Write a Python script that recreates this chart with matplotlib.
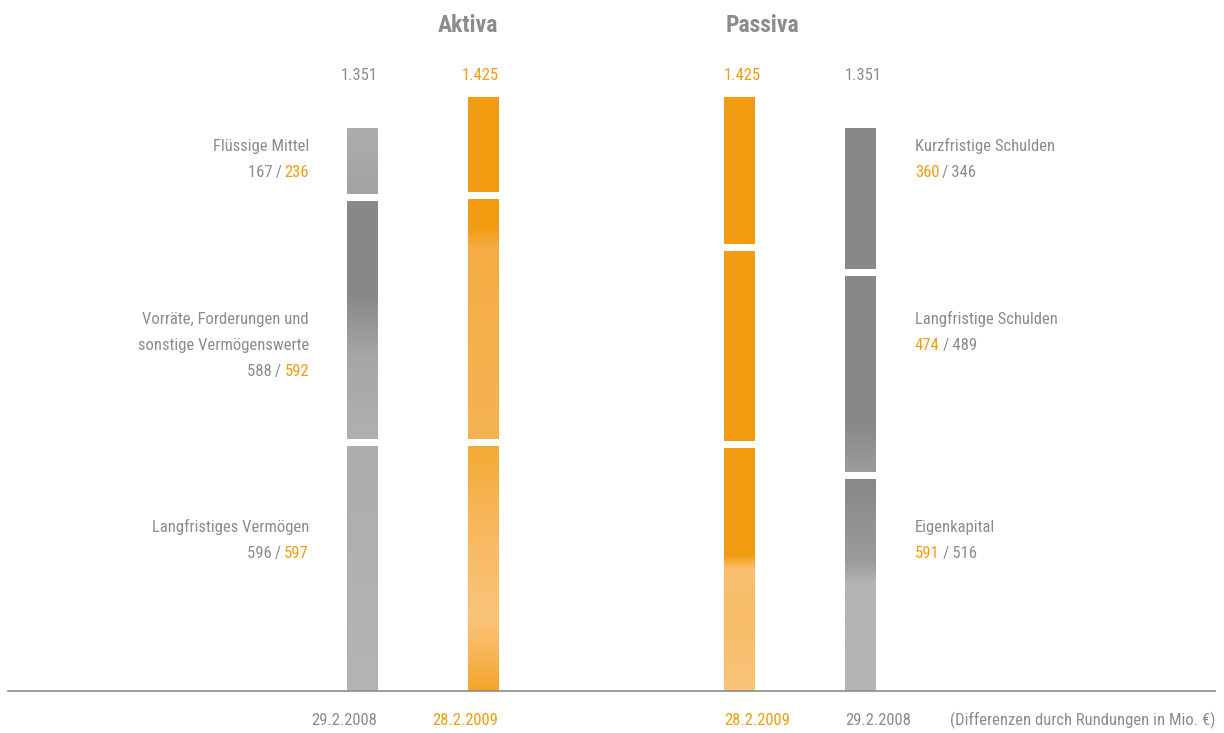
import numpy as np
import matplotlib
matplotlib.use("Agg")
from matplotlib import pyplot
from matplotlib import font_manager
from matplotlib.colors import LinearSegmentedColormap

# fonts: narrow face if present
entries = font_manager.fontManager.ttflist
names = set(f.name for f in entries)
stretch = 'normal'
family = 'DejaVu Sans'
for cand in ['Roboto Condensed', 'Liberation Sans Narrow', 'Open Sans Condensed', 'Noto Sans Condensed']:
    if cand in names:
        family = cand
        break
else:
    for f in entries:
        if f.name in ('DejaVu Sans', 'Noto Sans', 'Open Sans', 'Roboto') and f.stretch in ('condensed', 'semi-condensed', 'extra-condensed'):
            family = f.name
            stretch = f.stretch
            break
pyplot.rcParams['font.family'] = [family, 'DejaVu Sans']
pyplot.rcParams['font.stretch'] = stretch
narrow = family != 'DejaVu Sans' or stretch != 'normal'
FS = 12 if narrow else 10.5
FT = 17 if narrow else 15

# data (Mio. EUR)
dates = ['29.2.2008', '28.2.2009', '28.2.2009', '29.2.2008']
aktiva_labels = ['Langfristiges Vermögen', 'Vorräte, Forderungen und\nsonstige Vermögenswerte', 'Flüssige Mittel']
aktiva_2008 = [596, 588, 167]
aktiva_2009 = [597, 592, 236]
passiva_labels = ['Eigenkapital', 'Langfristige Schulden', 'Kurzfristige Schulden']
passiva_2009 = [591, 474, 360]
passiva_2008 = [516, 489, 346]
totals = ['1.351', '1.425', '1.425', '1.351']

GREY_TXT = '#8c8c8c'
ORANGE_TXT = '#f39c12'
DARK = '#888888'
LIGHT = '#b4b4b4'
OR = '#f39c12'
LOR = '#fac47a'

# colour stops per segment (bottom -> top)
styles = [
    [[(0, LIGHT), (1, '#adadad')],
     [(0, '#b0b0b0'), (0.35, '#a6a6a6'), (0.6, DARK), (1, DARK)],
     [(0, '#a2a2a2'), (1, '#adadad')]],
    [[(0, '#f5a628'), (0.12, '#f7b24e'), (0.3, LOR), (0.6, '#f8ba62'), (1, '#f5aa36')],
     [(0, '#f6b352'), (0.8, '#f5ac44'), (0.88, OR), (1, OR)],
     [(0, OR), (1, OR)]],
    [[(0, LOR), (0.3, '#f8bc66'), (0.5, '#f9c070'), (0.56, OR), (1, OR)],
     [(0, OR), (1, OR)],
     [(0, OR), (1, OR)]],
    [[(0, LIGHT), (0.5, LIGHT), (0.62, '#9a9a9a'), (1, DARK)],
     [(0, '#9c9c9c'), (0.25, DARK), (1, DARK)],
     [(0, DARK), (1, DARK)]],
]

series = [aktiva_2008, aktiva_2009, passiva_2009, passiva_2008]
xpos = [0, 1, 3.12, 4.12]
width = 0.256
gap = 17

fig = pyplot.figure(figsize=(12.24, 7.33), dpi=100)
ax = fig.add_axes([0, 0, 1, 1])
ax.set_xlim(-2.992, 7.124)
ax.set_ylim(-100.8, 1657.9)
ax.axis('off')

ramp = np.linspace(0, 1, 256).reshape(-1, 1)
for k, vals in enumerate(series):
    cum = np.concatenate([[0], np.cumsum(vals)])
    for i, v in enumerate(vals):
        lo = cum[i] + (gap / 2 if i > 0 else 0)
        hi = cum[i + 1] - (gap / 2 if i < len(vals) - 1 else 0)
        bar = ax.bar(xpos[k], hi - lo, width, bottom=lo, color=styles[k][i][0][1], linewidth=0)[0]
        cmap = LinearSegmentedColormap.from_list('s%d%d' % (k, i), styles[k][i])
        im = ax.imshow(ramp, cmap=cmap, origin='lower', aspect='auto',
                       extent=(xpos[k] - width / 2, xpos[k] + width / 2, lo, hi), zorder=2)
        im.set_clip_path(bar)
    tcol = GREY_TXT if dates[k].endswith('2008') else ORANGE_TXT
    # aktiva texts flush right with the bar, passiva texts flush left
    if k < 2:
        tx, ha = xpos[k] + width / 2, 'right'
    else:
        tx, ha = xpos[k] - width / 2, 'left'
    ax.text(tx, 1466, totals[k], color=tcol, fontsize=FS, ha=ha, va='baseline')
    ax.text(tx, -82, dates[k], color=tcol, fontsize=FS, ha=ha, va='baseline')

# baseline
ax.plot([-2.926, 7.05], [0, 0], color='#8c8c8c', lw=1.2, zorder=3)

# titles
ax.text(0.876, 1581, 'Aktiva', color=GREY_TXT, fontsize=FT, fontweight='bold', ha='center', va='baseline')
ax.text(3.306, 1581, 'Passiva', color=GREY_TXT, fontsize=FT, fontweight='bold', ha='center', va='baseline')

# segment labels
SEP = '\u2009/\u2009'
def pair(ax, x, y, first, second, c1, c2, ha):
    t1 = '%d' % first
    t2 = '%d' % second
    if ha == 'right':
        t = ax.text(x, y, t2, color=c2, fontsize=FS, ha='right', va='baseline')
        ax.annotate(t1 + SEP, xy=(0, 0), xycoords=t, ha='right', va='bottom', color=c1, fontsize=FS)
    else:
        t = ax.text(x, y, t1, color=c1, fontsize=FS, ha='left', va='baseline')
        ax.annotate(SEP + t2, xy=(1, 0), xycoords=t, ha='left', va='bottom', color=c2, fontsize=FS)

left_x = -0.438
line = 62
name_y = [381, 818, 1296]
for i, lab in enumerate(aktiva_labels):
    rows = lab.split('\n')
    for j, row in enumerate(rows):
        ax.text(left_x, name_y[i] + line * (len(rows) - 1 - j), row, color=GREY_TXT,
                fontsize=FS, ha='right', va='baseline')
    pair(ax, left_x, name_y[i] - line, aktiva_2008[i], aktiva_2009[i], GREY_TXT, ORANGE_TXT, 'right')

right_x = 4.57
p_name_y = [381, 880, 1296]
for i, lab in enumerate(passiva_labels):
    ax.text(right_x, p_name_y[i], lab, color=GREY_TXT, fontsize=FS, ha='left', va='baseline')
    pair(ax, right_x, p_name_y[i] - line, passiva_2009[i], passiva_2008[i], ORANGE_TXT, GREY_TXT, 'left')

ax.text(7.05, -82, '(Differenzen durch Rundungen in Mio. €)', color=GREY_TXT, fontsize=FS,
        ha='right', va='baseline')

pyplot.savefig('out.png', dpi=100)
